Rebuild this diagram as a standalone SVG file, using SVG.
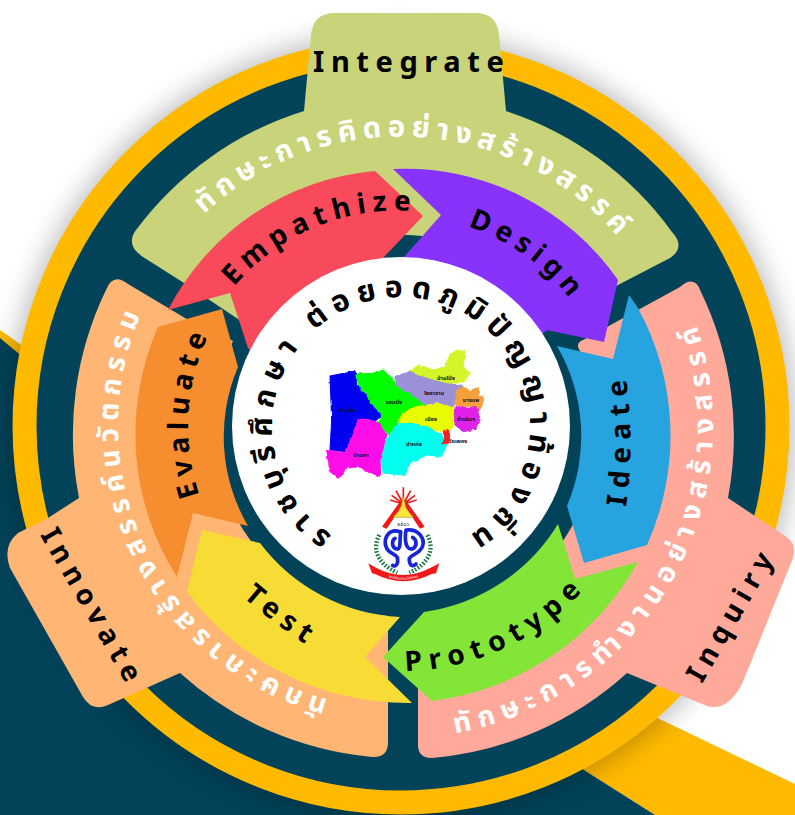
<svg xmlns="http://www.w3.org/2000/svg" width="795" height="815" viewBox="0 0 795 815">
<style>
text{font-family:"Noto Sans","Noto Sans Thai","DejaVu Sans",sans-serif;font-weight:700}
.lab{font-size:28px;fill:#000;letter-spacing:7px}
.th{font-size:29px;fill:#fff;letter-spacing:6px}
.mid{font-size:30px;fill:#000;letter-spacing:7.700px}
.map{font-size:5.500px;fill:#111;text-anchor:middle}
.logo-blue{fill:none;stroke:#1824D8;stroke-width:11;stroke-linecap:round}
.laurel{fill:none;stroke:#1D7A43;stroke-width:13;stroke-dasharray:5 5}
</style>
<defs>
<filter id="blur" x="-20%" y="-20%" width="140%" height="140%"><feGaussianBlur stdDeviation="14"/></filter>
<filter id="soft" x="-5%" y="-5%" width="110%" height="110%"><feTurbulence type="fractalNoise" baseFrequency=".07" numOctaves="2" seed="4" result="n"/><feDisplacementMap in="SourceGraphic" in2="n" scale="10" xChannelSelector="R" yChannelSelector="G"/><feGaussianBlur stdDeviation="1"/></filter>
<path id="pEmp" d="M234 286.600A215 215 0 0 1 438.300 214.300"/>
<path id="pDes" d="M468 226.700A210 210 0 0 1 600.200 353.500"/>
<path id="pIde" d="M626 507Q636 440 624 365"/>
<path id="pPro" d="M405.300 671A245 245 0 0 0 613.200 548.500"/>
<path id="pTes" d="M243 597Q275 625 322 655"/>
<path id="pEva" d="M199.600 495.300A213 213 0 0 1 364 216.200"/>
<path id="pOli" d="M204 214A287 287 0 0 1 670.700 327.800"/>
<path id="pSal" d="M455.200 733.300A312 312 0 0 0 671.200 270"/>
<path id="pPea" d="M327.800 699.400A283 283 0 0 1 184.200 244.100"/>
<path id="pMid" d="M332.600 535.400A129 129 0 1 1 466.500 537.200"/>
<path id="pRib" d="M55 280Q130 318 205 280"/>
</defs>
<rect width="795" height="815" fill="#fff"/>
<g id="background">
<polygon points="0,330 60,372 50,385 0,338" fill="#FFBA00"/>
<polygon points="620,700 795,784 795,815 655,815 560,755" fill="#FFBA00"/>
<polygon points="0,338 18,353 400,600 584,770 655,815 0,815" fill="#02435A"/>
<circle cx="401" cy="426" r="392" fill="#000" opacity=".28" filter="url(#blur)"/>
<circle cx="401" cy="426" r="376.500" fill="#02435A" stroke="#FFBA00" stroke-width="24"/>
</g>
<g id="node-integrate">
<path fill="#C8D37A" d="M304 111L311 35Q313 13 335 13L475 13Q497 13 499 35L506 111A332 332 0 0 1 672 232Q686 247 670 258L618 285L561 322A191 191 0 0 0 241 321L184 283L143 257Q125 245 136 230A332 332 0 0 1 304 111Z"/>
<text x="313" y="72" style="font-size:29px;letter-spacing:6.600px">Integrate</text>
<text class="th"><textPath href="#pOli">ทักษะการคิดอย่างสร้างสรรค์</textPath></text>
</g>
<g id="node-innovate">
<path fill="#FFB574" d="M128 284Q113 272 106 290A332 332 0 0 0 79 498L48 518L18 533Q2 546 10 568L83 697Q92 712 108 705L180 673A332 332 0 0 0 372 757Q388 758 388 742L388 616A190 190 0 0 1 233 341L185 318Z"/>
<text class="lab" transform="translate(40,535) rotate(60)" style="letter-spacing:6.600px">Innovate</text>
<text class="th" style="font-size:28px;letter-spacing:6.500px"><textPath href="#pPea">ทักษะการสร้างสรรค์นวัตกรรม</textPath></text>
</g>
<g id="node-inquiry">
<path fill="#FFA99A" d="M680 287Q695 274 701 292A332 332 0 0 1 728 498L788 538Q797 546 793 558L742 684Q727 712 707 706L627 673A332 332 0 0 1 432 758Q418 758 418 745L418 625A195 195 0 0 0 580 351Q574 343 585 339Z"/>
<text class="lab" transform="translate(702,684) rotate(-60)">Inquiry</text>
<text class="th" style="font-size:28px;letter-spacing:7.600px"><textPath href="#pSal">ทักษะการทำงานอย่างสร้างสรรค์</textPath></text>
</g>
<g id="node-empathize">
<path fill="#F94A5C" d="M168 310A258 258 0 0 1 375 171L423 216L384 257L380 300L260 360L248 348L230 293Z"/>
<text class="lab" style="letter-spacing:6.500px"><textPath href="#pEmp">Empathize</textPath></text>
</g>
<g id="node-design">
<path fill="#8833FB" d="M393 169A259 259 0 0 1 618 280L604 342L547 330L530 345L420 320L404 257L441 215Z"/>
<text class="lab" style="letter-spacing:6px"><textPath href="#pDes">Design</textPath></text>
</g>
<g id="node-ideate">
<path fill="#27A4DF" d="M629 295L613 359L557 346A179 179 0 0 1 567 506L584 563L647 545A267 267 0 0 0 638 308Z"/>
<text class="lab" style="letter-spacing:7.500px"><textPath href="#pIde">Ideate</textPath></text>
</g>
<g id="node-prototype">
<path fill="#82E537" d="M558 524L575 579L638 562A275 275 0 0 1 432 701L383 657L424 612A187 187 0 0 0 558 524Z"/>
<text class="lab" style="letter-spacing:7.500px"><textPath href="#pPro">Prototype</textPath></text>
</g>
<g id="node-test">
<path fill="#F6DC35" d="M202 530L260 543A187 187 0 0 0 400 617L365 657L412 703A275 275 0 0 1 187 592Z"/>
<text class="lab" style="letter-spacing:7px"><textPath href="#pTes">Test</textPath></text>
</g>
<g id="node-evaluate">
<path fill="#F68D2E" d="M158 327L222 309L238 367A177 177 0 0 0 248 526L193 513L177 577A266 266 0 0 1 158 327Z"/>
<text class="lab" style="letter-spacing:6px"><textPath href="#pEva">Evaluate</textPath></text>
</g>
<g id="center">
<circle cx="401" cy="426" r="169" fill="#fff"/>
<text class="mid"><textPath href="#pMid">ราชบุรีศึกษา ต่อยอดภูมิปัญญาท้องถิ่น</textPath></text>
</g>
<g id="map" transform="translate(230,270) scale(.33333)">
<g filter="url(#soft)" stroke-width="3" stroke-linejoin="round">
<polygon fill="#0000F0" stroke="#0000F0" points="300,318 330,312 375,305 380,345 410,375 420,400 455,435 440,450 385,445 370,490 345,545 300,540 305,450"/>
<polygon fill="#00FF00" stroke="#00FF00" points="378,312 425,310 460,300 490,330 495,345 540,370 585,405 555,410 520,425 500,460 475,495 445,460 455,430 420,398 410,372 385,345"/>
<polygon fill="#9C90D8" stroke="#9C90D8" points="495,320 540,305 600,325 660,340 700,350 680,375 670,410 625,400 590,405 540,370 495,345"/>
<polygon fill="#D5F52A" stroke="#D5F52A" points="540,305 565,285 610,300 645,290 660,255 680,240 705,245 700,290 718,310 705,335 660,340 600,325"/>
<polygon fill="#F6A03C" stroke="#F6A03C" points="680,360 700,352 720,362 745,352 745,378 762,382 755,410 745,425 720,410 675,405"/>
<polygon fill="#E020E8" stroke="#E020E8" points="670,420 690,408 715,415 740,412 750,450 735,478 700,485 675,465"/>
<polygon fill="#E8FB00" stroke="#E8FB00" points="505,450 525,425 555,410 590,405 625,400 670,412 670,470 650,490 590,470 545,465 505,460"/>
<polygon fill="#00FFEE" stroke="#00FFEE" points="500,462 545,460 590,470 635,495 650,525 635,560 590,555 540,580 525,615 460,610 452,570 470,510"/>
<polygon fill="#FF10E8" stroke="#FF10E8" points="385,447 440,452 470,495 450,570 452,620 415,605 385,590 350,595 325,625 300,605 290,540 345,548 370,490"/>
<polygon fill="#F02020" stroke="#F02020" points="640,485 655,480 660,500 655,520 635,522 645,505"/>
</g>
<g transform="scale(3)">
<text class="map" x="117" y="142">สวนผึ้ง</text>
<text class="map" x="164" y="134">จอมบึง</text>
<text class="map" x="216" y="110">บ้านโป่ง</text>
<text class="map" x="204" y="125">โพธาราม</text>
<text class="map" x="241" y="132">บางแพ</text>
<text class="map" x="236" y="151">ดำเนินฯ</text>
<text class="map" x="201" y="151">เมือง</text>
<text class="map" x="184" y="176">ปากท่อ</text>
<text class="map" x="131" y="187">บ้านคา</text>
<text class="map" x="228" y="173">วัดเพลง</text>
</g>
</g>
<g id="logo" transform="translate(360,480) scale(.33333)">
<path d="M130 72L130 22M130 72L108 32M130 72L152 32M130 72L95 46M130 72L165 46M130 72L90 60M130 72L170 60" stroke="#F01818" stroke-width="5" fill="none"/>
<path d="M66 140L122 62L128 74L80 146ZM194 140L138 62L132 74L180 146Z" fill="#F01818"/>
<path d="M130 50L137 80L142 92L160 112L100 112L118 92L123 80Z" fill="#FFE63A" stroke="#B09A10" stroke-width="2"/>
<text x="130" y="138" text-anchor="middle" style="font-size:15px;fill:#222;font-weight:400;letter-spacing:1px">๒๕๐๖</text>
<path class="laurel" d="M58 165C36 205 50 250 112 278"/>
<path class="laurel" d="M202 165C224 205 210 250 148 278"/>
<path class="logo-blue" d="M120 155C85 145 70 175 78 200C85 222 105 220 112 232C116 250 108 262 98 256M122 155C118 185 125 215 105 205C95 200 95 180 105 175"/>
<path class="logo-blue" d="M138 150C175 145 195 175 188 198C180 222 155 222 148 235C146 250 155 265 168 252M138 150C132 185 140 215 160 205C172 198 170 178 158 172"/>
<path d="M25 250L45 262Q130 308 215 262L238 250L228 280L215 282Q130 325 45 282L36 280Z" fill="#F01818"/>
<text text-anchor="middle" style="font-size:11px;fill:#fff;font-weight:400"><textPath href="#pRib" startOffset="50%">โรงเรียนจอมบึงวิทยา</textPath></text>
</g>
</svg>
